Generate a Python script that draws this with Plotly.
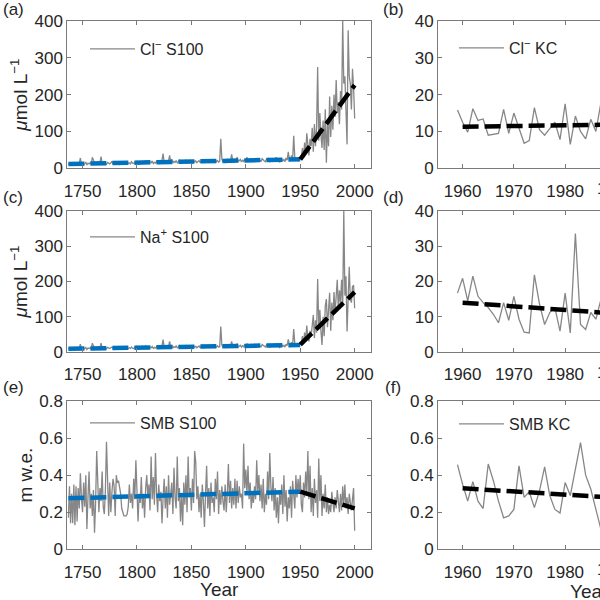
import plotly.graph_objs as go
from plotly.subplots import make_subplots

# --- data -----------------------------------------------------------------
years_s100 = list(range(1737, 2001))
years_kc = list(range(1959, 1988))

cl_s100 = [
    10, 14, 9, 12, 11, 15, 10, 13, 12, 9,
    14, 28, 11, 13, 10, 12, 16, 9, 14, 12,
    15, 11, 30, 22, 13, 10, 15, 12, 18, 14,
    32, 15, 12, 17, 13, 11, 16, 14, 12, 15,
    18, 13, 15, 11, 14, 16, 12, 10, 15, 13,
    11, 14, 17, 12, 16, 13, 15, 12, 18, 14,
    13, 16, 12, 20, 15, 11, 17, 14, 19, 13,
    16, 22, 14, 18, 12, 17, 15, 20, 13, 16,
    14, 19, 15, 17, 13, 18, 22, 40, 16, 14,
    18, 15, 20, 35, 17, 25, 14, 19, 16, 21,
    15, 18, 22, 16, 19, 14, 20, 17, 23, 15,
    18, 21, 16, 19, 14, 22, 17, 20, 15, 18,
    21, 16, 19, 24, 15, 18, 22, 17, 20, 16,
    19, 23, 17, 20, 16, 22, 18, 21, 17, 19,
    80, 25, 18, 22, 16, 20, 24, 18, 19, 22,
    38, 20, 17, 23, 19, 30, 18, 21, 24, 17,
    22, 19, 25, 20, 30, 18, 23, 21, 26, 19,
    22, 27, 18, 24, 20, 25, 21, 19, 26, 22,
    20, 18, 25, 22, 28, 17, 21, 19, 24, 20,
    23, 30, 19, 25, 16, 22, 26, 20, 24, 18,
    28, 22, 45, 26, 20, 35, 24, 88, 30, 22,
    25, 20, 24, 28,
    30, 55, 28, 70, 40, 95, 50, 35, 80, 60,
    110, 45, 120, 60, 110, 275, 75, 150, 90, 55,
    130, 50, 160, 15, 120, 60, 195, 85, 170, 105,
    200, 140, 240, 150, 180, 120, 210, 160, 400, 230,
    250, 180, 65, 375, 250, 230, 160, 270, 220, 135,
]

na_s100 = [
    8, 11, 7, 10, 9, 12, 8, 11, 10, 7,
    11, 22, 9, 10, 8, 10, 13, 7, 11, 10,
    12, 9, 25, 18, 10, 8, 12, 10, 14, 11,
    25, 12, 10, 14, 10, 9, 13, 11, 10, 12,
    14, 10, 12, 9, 11, 13, 10, 8, 12, 10,
    9, 11, 14, 10, 13, 10, 12, 10, 14, 11,
    10, 13, 10, 16, 12, 9, 14, 11, 15, 10,
    13, 18, 11, 14, 10, 14, 12, 16, 10, 13,
    11, 15, 12, 14, 10, 14, 18, 35, 13, 11,
    14, 12, 16, 30, 14, 20, 11, 15, 13, 17,
    12, 14, 18, 13, 15, 11, 16, 14, 18, 12,
    14, 17, 13, 15, 11, 18, 14, 16, 12, 14,
    17, 13, 15, 19, 12, 14, 18, 14, 16, 13,
    15, 18, 14, 16, 13, 18, 14, 17, 14, 15,
    72, 20, 14, 18, 13, 16, 19, 14, 15, 18,
    30, 16, 14, 18, 15, 24, 14, 17, 19, 14,
    18, 15, 20, 16, 24, 14, 18, 17, 21, 15,
    18, 22, 14, 19, 16, 20, 17, 15, 21, 18,
    16, 14, 20, 18, 22, 14, 17, 15, 19, 16,
    18, 24, 15, 20, 13, 18, 21, 16, 19, 14,
    22, 18, 36, 21, 16, 28, 19, 65, 24, 18,
    20, 16, 19, 22,
    25, 45, 22, 55, 35, 75, 40, 30, 60, 45,
    85, 105, 40, 90, 55, 207, 70, 120, 60, 20,
    100, 45, 130, 150, 70, 110, 168, 60, 140, 90,
    170, 110, 150, 205, 120, 175, 140, 205, 130, 400,
    160, 215, 58, 180, 242, 150, 140, 185, 190, 124,
]

smb_s100 = [
    0.17, 0.34, 0.14, 0.30, 0.14, 0.35, 0.13, 0.34, 0.15, 0.33,
    0.22, 0.41, 0.28, 0.20, 0.36, 0.23, 0.40, 0.11, 0.28, 0.42,
    0.22, 0.30, 0.18, 0.32, 0.09, 0.25, 0.53, 0.28, 0.20, 0.33,
    0.26, 0.42, 0.23, 0.19, 0.32, 0.58, 0.30, 0.18, 0.36, 0.20,
    0.31, 0.38, 0.34, 0.18, 0.40, 0.36, 0.37, 0.33, 0.30, 0.22,
    0.19, 0.18, 0.18, 0.18, 0.19, 0.23, 0.35, 0.25, 0.30, 0.22,
    0.38, 0.27, 0.48, 0.33, 0.15, 0.30, 0.25, 0.39, 0.22, 0.30,
    0.17, 0.33, 0.40, 0.28, 0.35, 0.21, 0.50, 0.27, 0.39, 0.24,
    0.52, 0.30, 0.20, 0.35, 0.26, 0.31, 0.14, 0.28, 0.38, 0.22,
    0.34, 0.17, 0.40, 0.24, 0.30, 0.36, 0.19, 0.44, 0.28, 0.22,
    0.50, 0.26, 0.33, 0.15, 0.30, 0.13, 0.36, 0.24, 0.40, 0.20,
    0.50, 0.28, 0.33, 0.21, 0.38, 0.25, 0.53, 0.47, 0.27, 0.34,
    0.20, 0.30, 0.17, 0.35, 0.26, 0.12, 0.30, 0.45, 0.22, 0.33,
    0.18, 0.36, 0.25, 0.28, 0.20, 0.38, 0.27, 0.42, 0.19, 0.32,
    0.24, 0.34, 0.26, 0.21, 0.35, 0.20, 0.30, 0.46, 0.25, 0.37,
    0.22, 0.33, 0.24, 0.38, 0.22, 0.37, 0.25, 0.34, 0.28, 0.30,
    0.22, 0.57, 0.33, 0.43, 0.30, 0.45, 0.27, 0.36, 0.22, 0.30,
    0.25, 0.34, 0.27, 0.48, 0.31, 0.40, 0.26, 0.35, 0.22, 0.38,
    0.20, 0.30, 0.24, 0.42, 0.27, 0.52, 0.34, 0.26, 0.39, 0.21,
    0.33, 0.17, 0.28, 0.14, 0.30, 0.24, 0.35, 0.19, 0.40, 0.23,
    0.32, 0.15, 0.28, 0.22, 0.34, 0.17, 0.37, 0.26, 0.22, 0.40,
    0.28, 0.38, 0.30, 0.40,
    0.24, 0.20, 0.36, 0.28, 0.42, 0.30, 0.53, 0.27, 0.45, 0.20,
    0.33, 0.18, 0.38, 0.25, 0.32, 0.17, 0.49, 0.26, 0.40, 0.18,
    0.30, 0.22, 0.35, 0.20, 0.28, 0.19, 0.24, 0.20, 0.31, 0.25,
    0.20, 0.28, 0.22, 0.32, 0.25, 0.20, 0.30, 0.21, 0.34, 0.24,
    0.35, 0.22, 0.28, 0.19, 0.30, 0.24, 0.21, 0.27, 0.33, 0.10,
]

cl_kc = [15.8, 12.5, 9.8, 16.2, 13.0, 13.4, 9.0, 9.2, 9.5, 16.0,
         9.5, 15.0, 11.0, 6.8, 7.5, 16.5, 10.5, 9.0, 10.8, 12.5,
         7.8, 17.5, 6.5, 14.2, 10.0, 8.0, 13.3, 10.0, 18.0]
na_kc = [16.7, 20.9, 14.5, 21.5, 15.8, 14.0, 12.6, 10.7, 8.3, 14.0,
         9.0, 15.8, 9.3, 5.6, 5.4, 21.9, 13.6, 7.8, 11.2, 12.6,
         5.9, 16.7, 5.4, 33.6, 7.8, 6.4, 11.2, 9.3, 15.0]
smb_kc = [0.457, 0.35, 0.26, 0.365, 0.26, 0.22, 0.46, 0.37, 0.26, 0.17,
          0.18, 0.215, 0.45, 0.28, 0.31, 0.225, 0.315, 0.445, 0.29, 0.215,
          0.195, 0.36, 0.29, 0.425, 0.575, 0.40, 0.325, 0.215, 0.106]

# linear trends, end points
pre_years = [1737, 1950]
post_years = [1950, 2000]
kc_trend_years = [1960, 1987]
cl_pre = [11.7, 24.4]
cl_post = [24.4, 226]
na_pre = [9.0, 20.0]
na_post = [21.0, 170]
smb_pre = [0.275, 0.311]
smb_post = [0.311, 0.221]
cl_kc_trend = [11.3, 11.8]
na_kc_trend = [14.0, 11.2]
smb_kc_trend = [0.329, 0.283]

s100_range = [1736, 2015]
kc_range = [1955.2, 1986.8]
s100_ticks = [1750, 1800, 1850, 1900, 1950, 2000]
kc_ticks = [1960, 1970, 1980]
kc_cut_tick = 1990   # only its first digit shows at the right edge

GREY = '#878787'
BLUE = '#0072BD'
TXT = '#262626'
AXC = '#7a7a7a'
FONT = 'Liberation Sans, Arial, sans-serif'

fig = make_subplots(rows=3, cols=2)

panels = [
    # row, col, x, y, name, legend, trends
    (1, 1, years_s100, cl_s100, 'Cl<sup>\u2212</sup> S100', 'legend',
     [(pre_years, cl_pre, BLUE), (post_years, cl_post, 'black')]),
    (1, 2, years_kc, cl_kc, 'Cl<sup>\u2212</sup> KC', 'legend2',
     [(kc_trend_years, cl_kc_trend, 'black')]),
    (2, 1, years_s100, na_s100, 'Na<sup>+</sup> S100', 'legend3',
     [(pre_years, na_pre, BLUE), (post_years, na_post, 'black')]),
    (2, 2, years_kc, na_kc, 'Na<sup>+</sup> KC', None,
     [(kc_trend_years, na_kc_trend, 'black')]),
    (3, 1, years_s100, smb_s100, 'SMB S100', 'legend4',
     [(pre_years, smb_pre, BLUE), (post_years, smb_post, 'black')]),
    (3, 2, years_kc, smb_kc, 'SMB KC', 'legend5',
     [(kc_trend_years, smb_kc_trend, 'black')]),
]

for row, col, xs, ys, name, leg, trends in panels:
    fig.add_trace(
        go.Scatter(x=xs, y=ys, mode='lines', name=name,
                   line=dict(color=GREY, width=1.3),
                   showlegend=leg is not None, legend=leg or 'legend'),
        row=row, col=col
    )
    for tx, ty, c in trends:
        fig.add_trace(
            go.Scatter(x=tx, y=ty, mode='lines', showlegend=False,
                       line=dict(color=c, width=4.5, dash='16px,6px')),
            row=row, col=col
        )

# pixel layout of the original figure
x_dom = {1: [67.3 / 600, 371 / 600], 2: [438 / 600, 1.0]}
y_dom = {1: [1 - 168.3 / 600, 1 - 21 / 600],
         2: [1 - 352 / 600, 1 - 211 / 600],
         3: [1 - 549.3 / 600, 1 - 401 / 600]}
y_setup = {
    (1, 1): ([0, 400], 100), (1, 2): ([0, 40], 10),
    (2, 1): ([0, 400], 100), (2, 2): ([0, 40], 10),
    (3, 1): ([0, 0.8], 0.2), (3, 2): ([0, 0.8], 0.2),
}

for (row, col), (yr, dt) in y_setup.items():
    left = col == 1
    fig.update_xaxes(
        domain=x_dom[col], range=s100_range if left else kc_range,
        tickvals=s100_ticks if left else kc_ticks, automargin=False,
        ticks='inside', ticklen=4, tickcolor=AXC, showline=True, linecolor=AXC,
        mirror='ticks', showgrid=False, zeroline=False, ticklabelstandoff=7,
        tickfont=dict(size=17, color=TXT, family=FONT),
        row=row, col=col
    )
    fig.update_yaxes(
        domain=y_dom[row], range=yr, dtick=dt, automargin=False,
        ticks='inside', ticklen=4, tickcolor=AXC, showline=True, linecolor=AXC,
        mirror='ticks' if left else False, showgrid=False, zeroline=False,
        tickfont=dict(size=17, color=TXT, family=FONT),
        row=row, col=col
    )

ytitle_font = dict(size=19, color=TXT, family=FONT)
fig.update_yaxes(title=dict(text='<i>\u03bc</i>mol L<sup>\u22121</sup>', font=ytitle_font, standoff=1), row=1, col=1)
fig.update_yaxes(title=dict(text='<i>\u03bc</i>mol L<sup>\u22121</sup>', font=ytitle_font, standoff=1), row=2, col=1)
fig.update_yaxes(title=dict(text='m w.e.', font=ytitle_font, standoff=1), row=3, col=1)
fig.update_xaxes(title=dict(text='Year', font=ytitle_font, standoff=2), row=3, col=1)

leg_style = dict(bgcolor='rgba(0,0,0,0)', borderwidth=0, itemwidth=45,
                 font=dict(size=16, color=TXT, family=FONT),
                 xanchor='left', yanchor='middle')
fig.update_layout(
    legend=dict(x=85 / 600, y=1 - 49 / 600, **leg_style),
    legend2=dict(x=454 / 600, y=1 - 48 / 600, **leg_style),
    legend3=dict(x=85 / 600, y=1 - 237 / 600, **leg_style),
    legend4=dict(x=85 / 600, y=1 - 423 / 600, **leg_style),
    legend5=dict(x=454 / 600, y=1 - 424 / 600, **leg_style),
)

# panel letters and the labels cut off by the right edge of the figure
ann = []
for txt, px, py in [('(a)', 13, 9), ('(b)', 393, 9), ('(c)', 13, 197),
                    ('(d)', 393, 197), ('(e)', 13, 387), ('(f)', 393, 387)]:
    ann.append(dict(text=txt, x=px / 600, y=1 - py / 600, xref='paper', yref='paper',
                    xanchor='center', yanchor='middle', showarrow=False,
                    font=dict(size=17, color=TXT, family=FONT)))
kc_frac = (kc_cut_tick - kc_range[0]) / (kc_range[1] - kc_range[0])
cut_x = x_dom[2][0] + kc_frac * (x_dom[2][1] - x_dom[2][0])
for row in (1, 2, 3):
    ann.append(dict(text=str(kc_cut_tick), x=cut_x, y=y_dom[row][0], xref='paper', yref='paper',
                    xanchor='center', yanchor='top', yshift=-9, showarrow=False,
                    font=dict(size=17, color=TXT, family=FONT)))
ann.append(dict(text='Year', x=(2014.3 + kc_range[0]) / 2, y=0, xref='x6', yref='y6 domain',
                xanchor='center', yanchor='top', yshift=-30, showarrow=False, font=ytitle_font))
fig.update_layout(annotations=ann)

fig.update_layout(
    width=600, height=600, margin=dict(l=0, r=0, t=0, b=0),
    plot_bgcolor='white', paper_bgcolor='white',
    font=dict(family=FONT, color=TXT),
)

fig.write_html('out.html', config={'displayModeBar': False},
               post_script="document.body.style.margin = '0px';")
